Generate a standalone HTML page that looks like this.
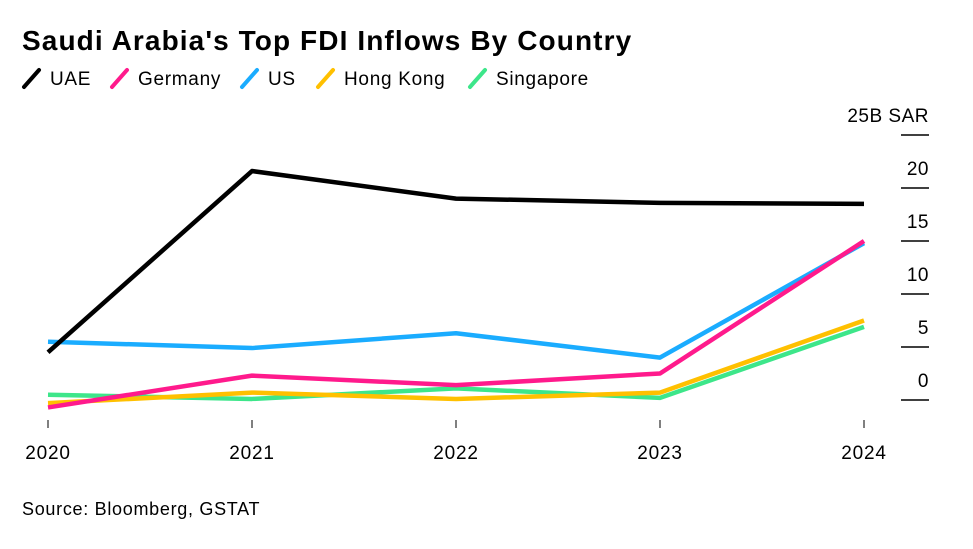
<!DOCTYPE html>
<html><head><meta charset="utf-8"><style>
body{margin:0;background:#fff;font-family:"Liberation Sans",Arial,sans-serif}
</style></head><body>
<svg width="973" height="544" viewBox="0 0 973 544">
<text x="22" y="50" font-size="28" font-weight="bold" letter-spacing="1.1" fill="#000">Saudi Arabia's Top FDI Inflows By Country</text>
<g id="legend"></g>
<g id="axis"></g>
<g id="xaxis"></g>
<g id="series"></g>
<text x="22" y="515" font-size="18" letter-spacing="0.7" fill="#000">Source: Bloomberg, GSTAT</text>
</svg>
<script>
const years=["2020","2021","2022","2023","2024"];
const uae=[4.5,21.6,19.0,18.6,18.5];
const us=[5.5,4.9,6.3,4.0,14.8];
const germany=[-0.7,2.3,1.4,2.5,15.0];
const hongKong=[-0.3,0.7,0.1,0.7,7.5];
const singapore=[0.5,0.1,1.1,0.2,6.9];
const yTicks=[0,5,10,15,20,25];
const names=["UAE","Germany","US","Hong Kong","Singapore"];
const colors=["#000000","#ff1a8c","#1aacff","#ffc000","#3de68a"];
const NS="http://www.w3.org/2000/svg";
const x=i=>48+i*204;
const y=v=>400-v*10.6;
function mk(t,a,p){const e=document.createElementNS(NS,t);for(const k in a)e.setAttribute(k,a[k]);p.appendChild(e);return e;}
const ax=document.getElementById('axis');
yTicks.forEach(t=>{
  const l=mk('line',{x1:901,x2:929,y1:y(t),y2:y(t),stroke:'#000','stroke-width':1.5},ax);
  
  
  const tx=mk('text',{x:929,y:y(t)-13,'text-anchor':'end','font-size':19,'letter-spacing':0.5},ax);
  tx.textContent=t===25?'25B SAR':String(t);
  
  
});
const xa=document.getElementById('xaxis');
years.forEach((yr,i)=>{
  const l=mk('line',{x1:x(i),x2:x(i),y1:420,y2:428,stroke:'#000','stroke-width':1},xa);
  
  
  const t=mk('text',{x:x(i),y:459,'text-anchor':'middle','font-size':19,'letter-spacing':0.8},xa);
  t.textContent=yr;
  
  
});
const sg=document.getElementById('series');
const data=[singapore,hongKong,us,germany,uae];
const order=[4,3,2,1,0];
data.forEach((d,k)=>{
  const p=mk('polyline',{points:d.map((v,i)=>x(i)+','+y(v)).join(' '),fill:'none',stroke:colors[order[k]],'stroke-width':4.5,'stroke-linejoin':'round'},sg);
  
  
});
const lg=document.getElementById('legend');
const lxs=[24,112,242,318,470];
names.forEach((n,i)=>{
  const lx=lxs[i];
  const l=mk('line',{x1:lx,y1:87,x2:lx+15,y2:70,stroke:colors[i],'stroke-width':4,'stroke-linecap':'round'},lg);
  
  
  const t=mk('text',{x:lx+26,y:85,'font-size':19,'letter-spacing':0.7},lg);
  t.textContent=n;
  
  
});
</script>
</body></html>
